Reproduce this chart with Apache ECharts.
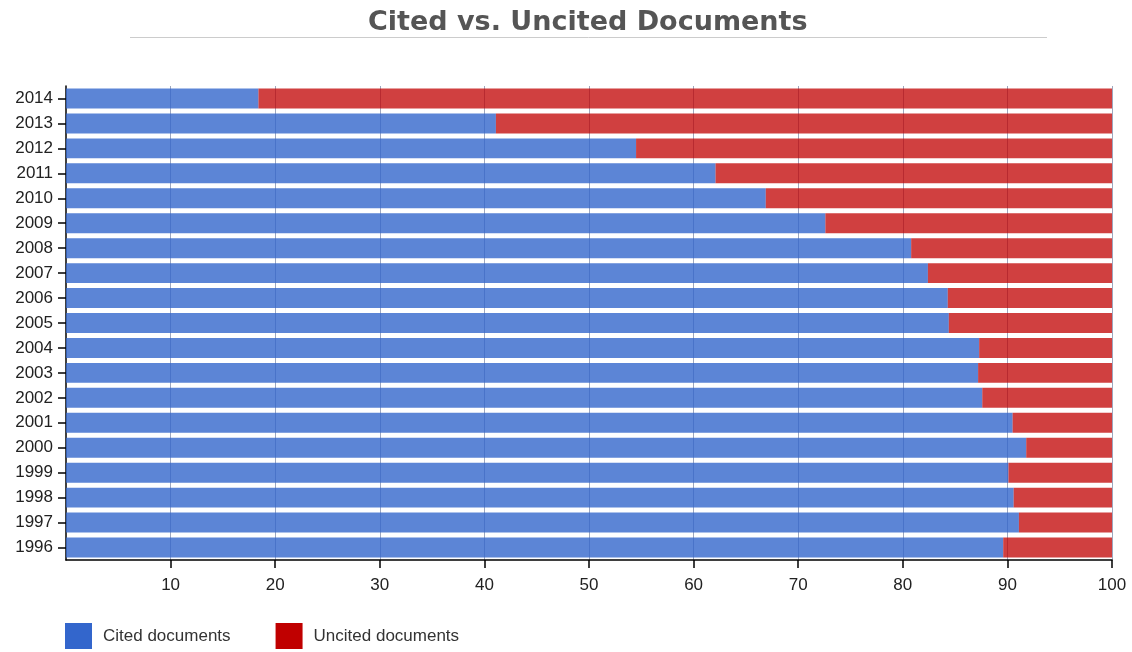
<!DOCTYPE html>
<html><head><meta charset="utf-8">
<script src="https://cdn.jsdelivr.net/npm/echarts@6/dist/echarts.min.js"></script>
<style>html,body{margin:0;padding:0;background:#fff}#c{width:1132px;height:652px}</style>
</head><body><div id="c"></div>
<script>
const years = ['1996','1997','1998','1999','2000','2001','2002','2003','2004','2005','2006','2007','2008','2009','2010','2011','2012','2013','2014'];
const cited = [89.6,91.1,90.6,90.1,91.8,90.5,87.6,87.2,87.3,84.4,84.3,82.4,80.8,72.6,66.9,62.1,54.5,41.1,18.4];
const uncited = cited.map(v => +(100 - v).toFixed(1));
const xTicks = [10,20,30,40,50,60,70,80,90,100];

const chart = echarts.init(document.getElementById('c'));
chart.setOption({
  animation: false,
  backgroundColor: '#fff',
  title: {
    text: 'Cited vs. Uncited Documents',
    left: 368, top: 9, padding: 0,
    textStyle: {fontFamily: 'DejaVu Sans', fontWeight: 'bold', fontSize: 27, color: '#555'}
  },
  graphic: [{type: 'line', shape: {x1: 130, y1: 37.5, x2: 1047, y2: 37.5}, style: {stroke: '#ccc', lineWidth: 1}}],
  legend: {
    left: 65, top: 623, padding: 0, itemWidth: 27, itemHeight: 26, itemGap: 45,
    icon: 'rect',
    textStyle: {fontFamily: 'Arial, Liberation Sans', fontSize: 17, color: '#333', padding: [0, 0, 0, 6]},
    data: [
      {name: 'Cited documents', itemStyle: {color: '#3366cc', opacity: 1}},
      {name: 'Uncited documents', itemStyle: {color: '#c00000', opacity: 1}}
    ]
  },
  grid: {left: 66, right: 20, top: 86, bottom: 92, containLabel: false},
  xAxis: {
    type: 'value', min: 0, max: 100, interval: 10,
    axisLine: {show: true, lineStyle: {color: '#000', width: 1.5}},
    axisTick: {show: true, length: 8, lineStyle: {color: '#000', width: 1.5}, customValues: xTicks},
    axisLabel: {fontFamily: 'Arial, Liberation Sans', fontSize: 17, color: '#222', margin: 17, customValues: xTicks},
    splitLine: {show: true, lineStyle: {color: 'rgba(40,60,110,0.45)', width: 1}}
  },
  yAxis: {
    type: 'category', data: years,
    axisLine: {show: true, lineStyle: {color: '#000', width: 1.5}},
    axisTick: {show: true, length: 8, alignWithLabel: true, lineStyle: {color: '#000', width: 1.5}},
    axisLabel: {fontFamily: 'Arial, Liberation Sans', fontSize: 17, color: '#222', margin: 13}
  },
  series: [
    {name: 'Cited documents', type: 'bar', stack: 't', data: cited, barCategoryGap: '20%',
     itemStyle: {color: '#3366cc', opacity: 0.8}},
    {name: 'Uncited documents', type: 'bar', stack: 't', data: uncited, barCategoryGap: '20%',
     itemStyle: {color: '#c00000', opacity: 0.75}}
  ]
});
</script></body></html>
